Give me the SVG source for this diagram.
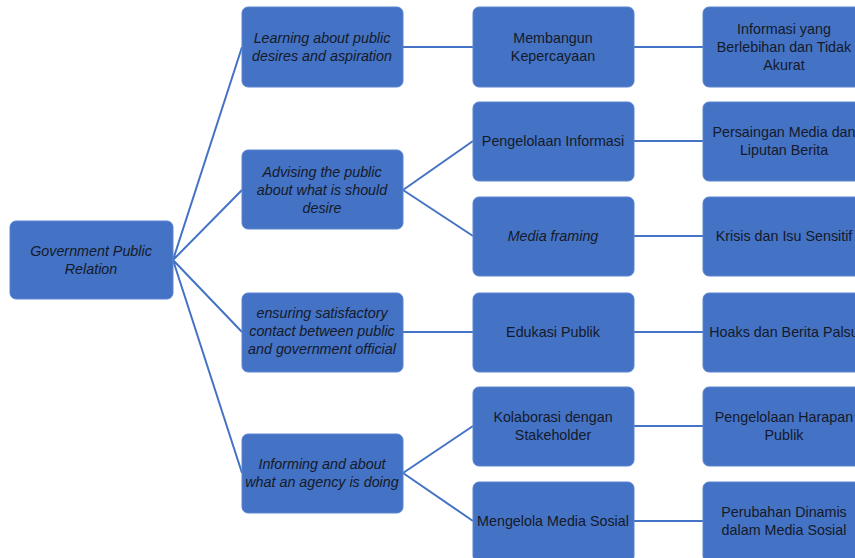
<svg xmlns="http://www.w3.org/2000/svg" width="855" height="558" viewBox="0 0 855 558">
<style>
.b{fill:#4472C4;stroke:#5b84cf;stroke-width:1}
.t{font-family:"Liberation Sans",Arial,sans-serif;font-size:14.3px;fill:#141a2a;text-anchor:middle}
.i{font-style:italic}
.c{stroke:#4472C4;stroke-width:2;fill:none}
</style>
<rect width="855" height="558" fill="#fff"/>
<g id="connectors">
<path class="c" d="M173 260L242 47M173 260L242 190M173 260L242 332M173 260L242 473"/>
<path class="c" d="M403 47H473M403 190L473 141M403 190L473 236M403 332H473M403 473L473 426M403 473L473 521"/>
<path class="c" d="M634 47H703M634 141H703M634 236H703M634 332H703M634 426H703M634 521H703"/>
</g>
<g id="root"><rect class="b" x="10" y="221" width="163" height="78" rx="6"/><text class="t i" x="91" y="256">Government Public</text><text class="t i" x="91" y="274">Relation</text></g>
<g id="a1"><rect class="b" x="242" y="7" width="161" height="80" rx="6"/><text class="t i" x="322" y="43">Learning about public</text><text class="t i" x="322" y="61">desires and aspiration</text></g>
<g id="a2"><rect class="b" x="242" y="150" width="161" height="79" rx="6"/><text class="t i" x="322" y="177">Advising the public</text><text class="t i" x="322" y="195">about what is should</text><text class="t i" x="322" y="213">desire</text></g>
<g id="a3"><rect class="b" x="242" y="293" width="161" height="79" rx="6"/><text class="t i" x="322" y="318">ensuring satisfactory</text><text class="t i" x="322" y="336">contact between public</text><text class="t i" x="322" y="354">and government official</text></g>
<g id="a4"><rect class="b" x="242" y="434" width="161" height="79" rx="6"/><text class="t i" x="322" y="469">Informing and about</text><text class="t i" x="322" y="487">what an agency is doing</text></g>
<g id="b1"><rect class="b" x="473" y="7" width="161" height="80" rx="6"/><text class="t" x="553" y="43">Membangun</text><text class="t" x="553" y="61">Kepercayaan</text></g>
<g id="b2"><rect class="b" x="473" y="102" width="161" height="79" rx="6"/><text class="t" x="553" y="146">Pengelolaan Informasi</text></g>
<g id="b3"><rect class="b" x="473" y="197" width="161" height="79" rx="6"/><text class="t i" x="553" y="241">Media framing</text></g>
<g id="b4"><rect class="b" x="473" y="293" width="161" height="79" rx="6"/><text class="t" x="553" y="337">Edukasi Publik</text></g>
<g id="b5"><rect class="b" x="473" y="387" width="161" height="79" rx="6"/><text class="t" x="553" y="422">Kolaborasi dengan</text><text class="t" x="553" y="440">Stakeholder</text></g>
<g id="b6"><rect class="b" x="473" y="482" width="161" height="80" rx="6"/><text class="t" x="553" y="526">Mengelola Media Sosial</text></g>
<g id="c1"><rect class="b" x="703" y="7" width="161" height="80" rx="6"/><text class="t" x="784" y="34">Informasi yang</text><text class="t" x="784" y="52">Berlebihan dan Tidak</text><text class="t" x="784" y="70">Akurat</text></g>
<g id="c2"><rect class="b" x="703" y="102" width="161" height="79" rx="6"/><text class="t" x="784" y="137">Persaingan Media dan</text><text class="t" x="784" y="155">Liputan Berita</text></g>
<g id="c3"><rect class="b" x="703" y="197" width="161" height="79" rx="6"/><text class="t" x="784" y="241">Krisis dan Isu Sensitif</text></g>
<g id="c4"><rect class="b" x="703" y="293" width="161" height="79" rx="6"/><text class="t" x="784" y="337">Hoaks dan Berita Palsu</text></g>
<g id="c5"><rect class="b" x="703" y="387" width="161" height="79" rx="6"/><text class="t" x="784" y="422">Pengelolaan Harapan</text><text class="t" x="784" y="440">Publik</text></g>
<g id="c6"><rect class="b" x="703" y="482" width="161" height="80" rx="6"/><text class="t" x="784" y="517">Perubahan Dinamis</text><text class="t" x="784" y="535">dalam Media Sosial</text></g>
</svg>
